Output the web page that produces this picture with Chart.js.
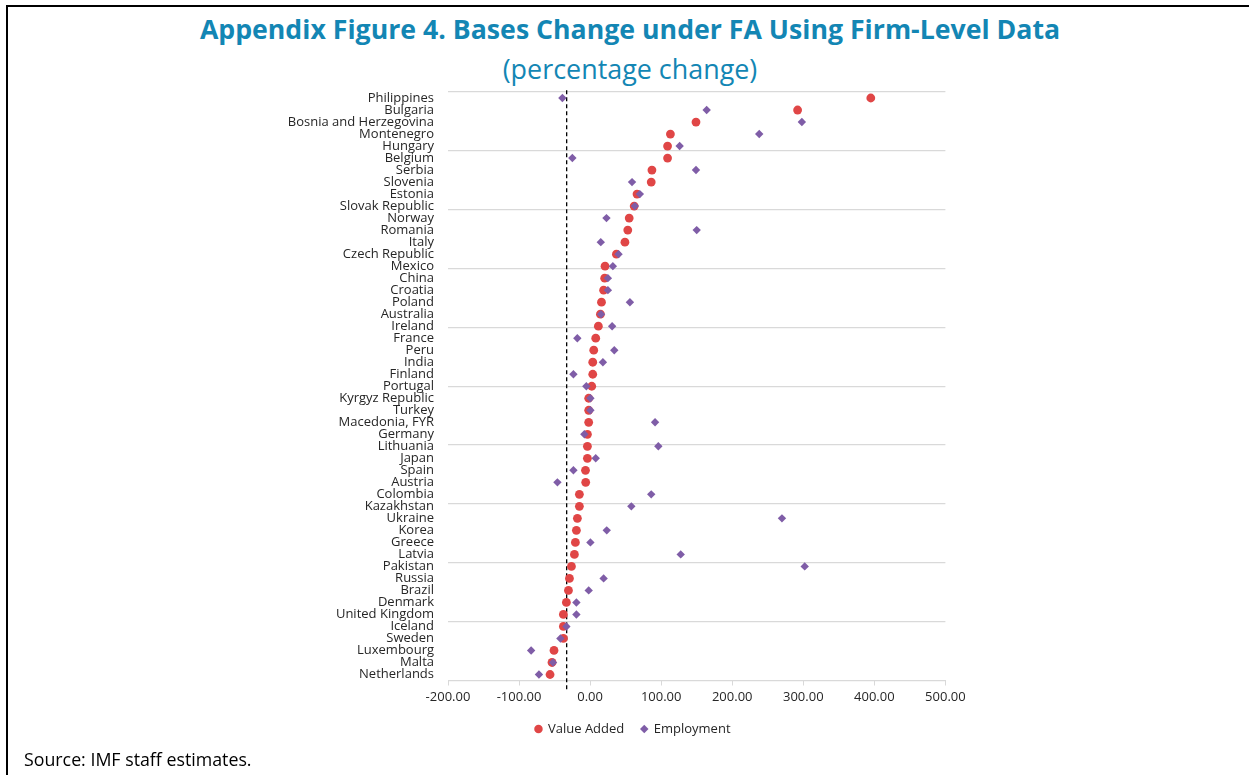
<!DOCTYPE html>
<html>
<head>
<meta charset="utf-8">
<script src="https://cdn.jsdelivr.net/npm/chart.js@4.4.1/dist/chart.umd.min.js"></script>
<style>
  html, body { margin: 0; padding: 0; background: #ffffff; }
  body { width: 1249px; height: 775px; position: relative; overflow: hidden; font-family: 'Open Sans', 'Noto Sans', sans-serif; }
  #frame { position: absolute; left: 6px; top: 5px; width: 1260px; height: 790px; border-top: 2px solid #000; border-left: 2px solid #000; }
  #title { position: absolute; left: 0; width: 1260px; top: 12px; line-height: 34px; text-align: center; font-weight: 700; font-size: 26.7px; color: #1386B4; white-space: nowrap; }
  #subtitle { position: absolute; left: 0; width: 1260px; top: 52px; line-height: 34px; text-align: center; font-weight: 400; font-size: 26.9px; color: #1386B4; white-space: nowrap; }
  #source { position: absolute; left: 24px; top: 746px; line-height: 26px; font-size: 17.8px; color: #000; white-space: nowrap; }
  #wrap { position: absolute; left: 0; top: 0; width: 1249px; height: 775px; }
</style>
</head>
<body>
<div id="frame"></div>
<div id="title">Appendix Figure 4. Bases Change under FA Using Firm-Level Data</div>
<div id="subtitle">(percentage change)</div>
<div id="wrap"><canvas id="chart" width="1249" height="775"></canvas></div>
<div id="source">Source: IMF staff estimates.</div>
<script>
const countries = [
  'Philippines', 'Bulgaria', 'Bosnia and Herzegovina', 'Montenegro', 'Hungary',
  'Belgium', 'Serbia', 'Slovenia', 'Estonia', 'Slovak Republic',
  'Norway', 'Romania', 'Italy', 'Czech Republic', 'Mexico',
  'China', 'Croatia', 'Poland', 'Australia', 'Ireland',
  'France', 'Peru', 'India', 'Finland', 'Portugal',
  'Kyrgyz Republic', 'Turkey', 'Macedonia, FYR', 'Germany', 'Lithuania',
  'Japan', 'Spain', 'Austria', 'Colombia', 'Kazakhstan',
  'Ukraine', 'Korea', 'Greece', 'Latvia', 'Pakistan',
  'Russia', 'Brazil', 'Denmark', 'United Kingdom', 'Iceland',
  'Sweden', 'Luxembourg', 'Malta', 'Netherlands'
];
const valueAdded = [
  395, 292, 149, 113, 109,
  109, 87, 86, 66, 62,
  55, 53, 49, 37, 21,
  20.5, 19, 16, 14.5, 11.6,
  7.9, 5.1, 3.7, 3.7, 2.3,
  -2, -2, -2, -3.8, -3.8,
  -3.8, -6.5, -6.2, -15.1, -15.1,
  -17.9, -19.3, -20.7, -22.1, -26.3,
  -29.1, -30.5, -33.4, -37.6, -37.6,
  -37.6, -50.8, -53.6, -56.4
];
const employment = [
  -39, 164, 298, 238, 126,
  -25, 149, 59, 70, 63,
  23, 150, 15, 40, 32,
  25, 25, 56, 15.4, 31,
  -18, 34, 18, -23.5, -5.3,
  0.4, 0.4, 91.4, -8.1, 96,
  7.9, -23.5, -46, 86, 58,
  270, 23.4, 0.4, 127.5, 302,
  19, -2, -19.3, -19.3, -33.4,
  -41.8, -83, -52.2, -72
];
const xTickValues = [-200, -100, 0, 100, 200, 300, 400, 500];
const referenceLineX = -33;
const rowGridStep = 4.9;
const seriesNames = ['Value Added', 'Employment'];

const rowCount = countries.length;
const vaPoints = valueAdded.map((v, i) => ({ x: v, y: i + 0.5 }));
const emPoints = employment.map((v, i) => ({ x: v, y: i + 0.5 }));
const refPoints = [{ x: referenceLineX, y: -0.15 }, { x: referenceLineX, y: rowCount + 0.9 }];

const gridTicks = [];
for (let k = 0; k <= 10; k++) gridTicks.push({ value: +(k * rowGridStep).toFixed(4), isGrid: true });
const labelTicks = countries.map((c, i) => ({ value: i + 0.5, isGrid: false, name: c }));

const labelFont = { family: "'Open Sans', 'Noto Sans', sans-serif", size: 13 };
const textColor = '#262626';
const gridColor = '#D9D9D9';

new Chart(document.getElementById('chart').getContext('2d'), {
  type: 'scatter',
  data: {
    datasets: [
      { label: seriesNames[0], data: vaPoints, pointStyle: 'circle', pointRadius: 4.4, pointHoverRadius: 4.4,
        backgroundColor: '#E04646', borderColor: '#E04646', borderWidth: 0, order: 2 },
      { label: seriesNames[1], data: emPoints, pointStyle: 'rectRot', pointRadius: 4.2, pointHoverRadius: 4.2,
        backgroundColor: '#7F5DA7', borderColor: '#7F5DA7', borderWidth: 0, order: 1 },
      { type: 'line', label: '__ref', data: refPoints, borderColor: '#000000', borderWidth: 1.3,
        borderDash: [4, 3], pointRadius: 0, fill: false, clip: false, order: 3 }
    ]
  },
  options: {
    responsive: false,
    animation: false,
    devicePixelRatio: 1,
    layout: { padding: { top: 92, left: 280, right: 263, bottom: 29.5 } },
    plugins: {
      legend: {
        position: 'bottom',
        labels: {
          filter: item => item.text !== '__ref',
          sort: (a, b) => a.datasetIndex - b.datasetIndex,
          usePointStyle: true, boxWidth: 6, boxHeight: 6, padding: 17,
          color: textColor, font: labelFont
        }
      },
      tooltip: { enabled: false }
    },
    scales: {
      x: {
        type: 'linear', min: -200, max: 500,
        afterBuildTicks: s => { s.ticks = xTickValues.map(v => ({ value: v })); },
        afterFit: s => { s.height = 25; },
        ticks: { callback: v => Number(v).toFixed(2), padding: 4, color: textColor, font: labelFont, maxRotation: 0 },
        grid: { drawOnChartArea: false, drawTicks: true, tickLength: 5, color: gridColor },
        border: { color: gridColor, width: 1 }
      },
      y: {
        type: 'linear', min: 0, max: rowCount, reverse: true,
        afterBuildTicks: s => { s.ticks = gridTicks.map(t => ({ ...t })).concat(labelTicks.map(t => ({ ...t }))); },
        afterFit: s => { s.width = 168; },
        ticks: {
          autoSkip: false, padding: 14, color: textColor, font: labelFont,
          callback: function (value, index, ticks) { const t = ticks[index]; return t.isGrid ? '' : t.name; }
        },
        grid: {
          drawTicks: false,
          color: ctx => (ctx.tick && ctx.tick.isGrid) ? gridColor : 'rgba(0,0,0,0)',
          lineWidth: ctx => (ctx.tick && ctx.tick.isGrid) ? 1.3 : 0
        },
        border: { display: false }
      },
      yRight: {
        type: 'linear', position: 'right', display: true, min: 0, max: 1,
        afterFit: s => { s.width = 40.6; },
        ticks: { display: false },
        grid: { display: false, drawTicks: false },
        border: { display: false }
      }
    }
  }
});
</script>
</body>
</html>
